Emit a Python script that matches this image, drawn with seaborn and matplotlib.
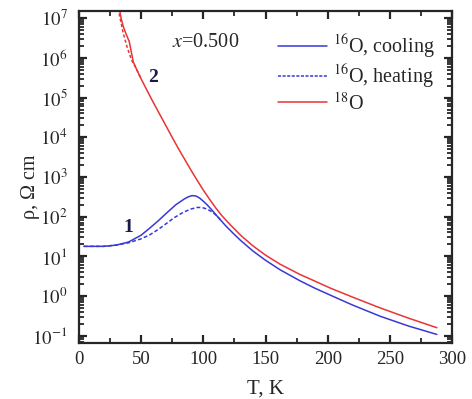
import numpy as np
import pandas as pd
import seaborn as sns
import matplotlib
matplotlib.use("Agg")
import matplotlib.pyplot as plt
from matplotlib.lines import Line2D
from matplotlib.ticker import FixedLocator, MultipleLocator, NullFormatter

# 16O, cooling (curve 1, solid)
T_16_cool = [4, 20, 30, 40, 50, 57, 64, 70.5, 78, 85, 88, 91, 94, 97, 100, 103, 106, 109, 112,
             118, 124, 130, 140, 150, 161.7, 177.8, 190, 202, 220, 242, 265, 287.7]
rho_16_cool = [17.8, 17.8, 19.1, 22.9, 33.9, 51.3, 79.4, 123, 200, 282, 316, 339, 331, 295, 245,
               200, 158, 123, 95.5, 58.9, 38.0, 25.1, 13.5, 7.94, 4.57, 2.40, 1.55, 1.05, 0.589,
               0.309, 0.174, 0.107]

# 16O, heating (curve 1, dashed)
T_16_heat = [4, 20, 30, 40, 50, 57, 64, 70.5, 77, 84, 90, 95, 99, 103, 107, 111, 115]
rho_16_heat = [17.8, 17.8, 19.1, 21.9, 27.5, 34.7, 47.9, 67.6, 95.5, 129, 155, 170, 170, 155,
               132, 105, 75.0]

# 18O (curve 2, solid)
T_18 = [32.5, 34, 35.7, 38, 40.5, 43.7, 46, 50, 55, 60, 65, 70, 75, 80, 85, 90, 95, 100, 105,
        110, 115, 121.5, 130, 140, 150, 161.7, 177.8, 190, 202, 220, 242, 265, 287.7]
rho_18 = [1.78e7, 1.0e7, 6.2e6, 4.0e6, 2.6e6, 8.1e5, 5.5e5, 3.0e5, 1.48e5, 7.4e4, 3.8e4, 1.95e4,
          1.0e4, 5.2e3, 2.8e3, 1.51e3, 832, 468, 275, 166, 105, 63.1, 33.9, 18.2, 10.7, 6.31,
          3.47, 2.34, 1.58, 0.933, 0.501, 0.275, 0.158]

# 18O, heating branch at low T (dotted, not in legend)
T_18_heat = [31.5, 33.5, 35.7, 39, 42.4, 46, 50]
rho_18_heat = [1.78e7, 8.9e6, 4.2e6, 1.78e6, 8.9e5, 5.5e5, 3.0e5]

y_decades = [-1, 0, 1, 2, 3, 4, 5, 6, 7]

blue = "#3838d8"
red = "#e83434"
navy = "#1a1a4a"

sns.set_style("ticks")
plt.rcParams["font.family"] = ["Liberation Serif", "DejaVu Serif"]
plt.rcParams["mathtext.fontset"] = "stix"

fig = plt.figure(figsize=(4.72, 3.99), dpi=100)
ax = fig.add_axes([0.167, 0.140, 0.791, 0.832])

sns.lineplot(x=T_16_cool, y=rho_16_cool, ax=ax, color=blue, lw=1.1, sort=False, estimator=None)
sns.lineplot(x=T_16_heat, y=rho_16_heat, ax=ax, color=blue, lw=1.1, sort=False, estimator=None,
             linestyle=(0, (2.5, 1.5)))
sns.lineplot(x=T_18, y=rho_18, ax=ax, color=red, lw=1.1, sort=False, estimator=None)
sns.lineplot(x=T_18_heat, y=rho_18_heat, ax=ax, color=red, lw=1.1, sort=False, estimator=None,
             linestyle=(0, (2, 1.5)))

ax.set_yscale("log")
ax.set_xlim(0, 300)
ax.set_ylim(10 ** -1.19, 10 ** 7.18)

ax.xaxis.set_major_locator(MultipleLocator(50))
ax.xaxis.set_minor_locator(MultipleLocator(25))
ax.yaxis.set_major_locator(FixedLocator([10.0 ** d for d in y_decades]))
ax.set_yticklabels([f"$10^{{{d}}}$" for d in y_decades])
minor = [m * 10.0 ** d for d in range(-2, 8) for m in range(2, 10)]
minor = [v for v in minor if 10 ** -1.19 < v < 10 ** 7.18]
ax.yaxis.set_minor_locator(FixedLocator(minor))
ax.yaxis.set_minor_formatter(NullFormatter())

ax.tick_params(which="both", direction="in", top=True, right=True, labelsize=13.5, width=1.3)
ax.tick_params(which="major", length=6, width=1.6)
ax.tick_params(which="minor", length=3.5)
ax.tick_params(axis="y", which="major", pad=8)
ax.tick_params(axis="x", which="major", pad=6)
for s in ax.spines.values():
    s.set_linewidth(1.6)

ax.set_xlabel("T, K", fontsize=15, labelpad=8)
ax.set_ylabel("ρ, Ω cm", fontsize=14.5)
ax.yaxis.set_label_coords(-0.105, 0.47)

ax.text(39.4, 52, "1", fontsize=14, fontweight="bold", color=navy, ha="center", va="center")
ax.text(59.5, 3.3e5, "2", fontsize=14, fontweight="bold", color=navy, ha="center", va="center")
ax.text(74.8, 2.5e6, "$x$=0.500", fontsize=14.5, ha="left", va="center")

handles = [Line2D([], [], color=blue, lw=1.1),
           Line2D([], [], color=blue, lw=1.1, linestyle=(0, (2, 1))),
           Line2D([], [], color=red, lw=1.1)]
labels = ["$^{16}$O, cooling", "$^{16}$O, heating", "$^{18}$O"]
ax.legend(handles, labels, loc="upper left", bbox_to_anchor=(0.534, 0.935), frameon=False,
          fontsize=14.5, handlelength=2.4, labelspacing=0.08, borderaxespad=0, borderpad=0,
          handletextpad=0.3)

fig.savefig("out.png", dpi=100)
